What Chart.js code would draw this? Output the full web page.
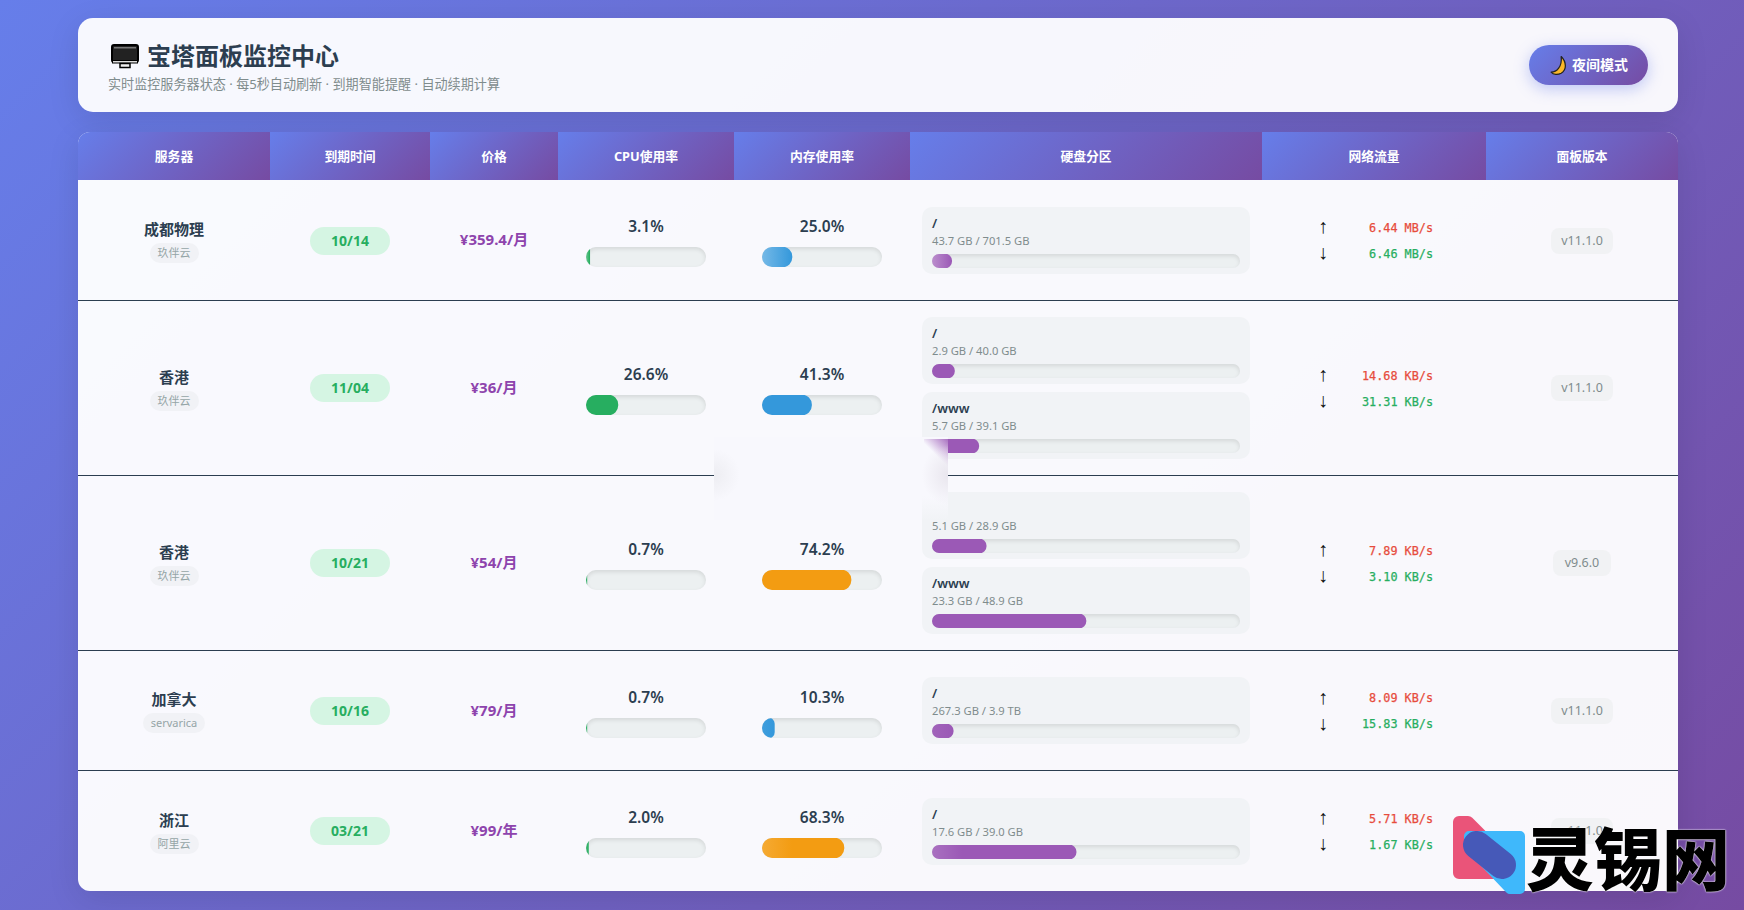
<!DOCTYPE html>
<html lang="zh-CN">
<head>
<meta charset="utf-8">
<title>宝塔面板监控中心</title>
<script src="https://cdn.jsdelivr.net/npm/chart.js@4/dist/chart.umd.js"></script>
<style>
*{box-sizing:border-box;margin:0;padding:0}
html,body{width:1744px;height:910px;overflow:hidden}
body{background:linear-gradient(135deg,#667eea 0%,#764ba2 100%);font-family:"Noto Sans","Noto Sans CJK SC",sans-serif;color:#2c3e50;position:relative}
.top{position:absolute;left:78px;top:18px;width:1600px;height:94px;border-radius:15px;background:rgba(255,255,255,.95);box-shadow:0 8px 32px rgba(0,0,0,.1)}
.top svg.mon{position:absolute;left:33px;top:26px}
.top h1{position:absolute;left:69px;top:20px;font-size:24px;line-height:36px;font-weight:700;white-space:nowrap}
.top p{position:absolute;left:30px;top:56px;font-size:13.1px;line-height:20px;color:#7f8c8d;white-space:nowrap}
.btn{position:absolute;left:1451px;top:27px;width:119px;height:40px;border-radius:20px;background:linear-gradient(135deg,#667eea,#764ba2);box-shadow:0 4px 15px rgba(102,126,234,.4);color:#fff;font-size:14px;font-weight:700;line-height:40px;padding-left:43px;white-space:nowrap}
.btn svg{position:absolute;left:21px;top:10px}
.tbl{position:absolute;left:78px;top:132px;width:1600px;height:759px;border-radius:12px;overflow:hidden;background:rgba(255,255,255,.96);box-shadow:0 8px 32px rgba(0,0,0,.1)}
.row,.head{display:grid;grid-template-columns:192px 160px 128px 176px 176px 352px 224px 192px}
.head{height:48px;grid-template-rows:48px}
.head div{height:48px;background:linear-gradient(135deg,#667eea 0%,#764ba2 100%);color:#fff;font-size:12.8px;font-weight:700;line-height:48px;text-align:center;overflow:hidden}
.row{border-bottom:1px solid #2c3e50}
.row:last-child{border-bottom:0}
.cell{display:flex;flex-direction:column;align-items:center;justify-content:center;min-width:0}
.name{font-size:15px;font-weight:600;line-height:21px;margin-top:1px}
.tag{font-size:11px;line-height:20px;height:20px;padding:0 8px;border-radius:10px;background:#f1f2f6;color:#95a5a6;margin-top:3px}
.date{width:80px;height:28px;border-radius:14px;background:#d5f5e3;color:#27ae60;font-size:14px;font-weight:700;line-height:28px;text-align:center}
.price{color:#8e44ad;font-size:15px;font-weight:700;position:relative;top:-1.5px}
.pct{font-size:15.5px;font-weight:600;line-height:28px;margin-bottom:6px;position:relative;top:-1px}
.track{position:relative;overflow:hidden;background:#ecf0f1;box-shadow:inset 0 2px 4px rgba(0,0,0,.1)}
.track canvas{position:absolute;left:0;top:0;display:block}
.usage{width:120px;height:20px;border-radius:10px}
.disk{width:328px;height:67px;border-radius:10px;background:#f1f3f6;position:relative}
.disk + .disk{margin-top:8px}
.mount{position:absolute;left:10px;top:6px;font-size:13px;font-weight:600;line-height:20px}
.size{position:absolute;left:10px;top:25px;font-size:11.2px;line-height:18px;color:#7f8c8d;white-space:nowrap}
.dtrack{position:absolute;left:10px;top:47px;width:308px;height:14px;border-radius:7px}
.net{width:116px;padding-top:1px;position:relative;left:1px}
.net div{display:flex;justify-content:space-between;align-items:center;height:26px}
.net i{font-style:normal;font-size:20px;color:#111;font-family:"Liberation Sans",sans-serif;width:14px;text-align:center;line-height:26px;position:relative;top:-1.5px;left:-1px}
.net b{font-family:"DejaVu Sans Mono",monospace;font-size:11.8px;font-weight:400;-webkit-text-stroke:.25px currentColor}
.up{color:#e74c3c}.dn{color:#27ae60}
.ver{height:26px;min-width:58px;text-align:center;border-radius:8px;background:#f1f2f4;color:#7f8c8d;font-size:12.5px;line-height:26px;padding:0 10px}
.first .date,.first .ver{position:relative;top:1px}
.smudge{position:absolute;left:714px;top:437px;width:234px;height:83px;z-index:3;background-color:#f8f8fd;background-repeat:no-repeat;background-image:
  radial-gradient(ellipse 26px 26px at 0 38px,#ededf2,rgba(248,248,253,0)),
  radial-gradient(ellipse 26px 30px at 100% 38px,#e9e6ee,rgba(248,248,253,0)),
  linear-gradient(225deg,rgba(155,89,182,.85) 0,rgba(155,89,182,0) 20px),
  linear-gradient(180deg,rgba(241,243,246,0),#f1f3f6);
  background-size:auto,auto,24px 28px,26px 24px;
  background-position:0 0,0 0,100% 2px,100% 100%}
.mark{position:absolute;left:0;top:0;z-index:5;pointer-events:none}
.marktext{position:absolute;left:1526px;top:806px;z-index:6;font-family:"Noto Sans CJK SC",sans-serif;font-size:68px;line-height:100px;font-weight:900;color:#000;white-space:nowrap;text-shadow:0 0 1px #fff,0 0 2px #fff}
</style>
</head>
<body>
<div class="top">
  <svg class="mon" width="28" height="25" viewBox="0 0 28 25" role="img" aria-label="🖥"><rect x="1" y="1" width="26" height="17" rx="2" fill="#222" stroke="#000" stroke-width="2"/><rect x="3" y="3" width="22" height="1.5" fill="#777"/><rect x="1.5" y="16.5" width="25" height="2.5" fill="#ddd" stroke="#000"/><rect x="9" y="19.5" width="10" height="4" fill="#eee" stroke="#000" stroke-width="1.5"/></svg>
  <h1>宝塔面板监控中心</h1>
  <p>实时监控服务器状态 · 每5秒自动刷新 · 到期智能提醒 · 自动续期计算</p>
  <div class="btn"><svg width="19" height="21" viewBox="0 0 17 18" role="img" aria-label="🌙"><path d="M10 1 C15 6 15 13 10 16 C7 17.5 3 17.5 1 15 C6 15 11 10 10 1Z" fill="#fbb728" stroke="#222" stroke-width="1.1" stroke-linejoin="round"/></svg>夜间模式</div>
</div>
<div class="tbl" id="tbl"></div>
<div class="smudge"></div>
<svg class="mark" width="1744" height="910" aria-hidden="true">
  <path d="M1459 822 L1468 822 L1510 864 L1510 873 L1459 873 Z" fill="#ea5479" stroke="#ea5479" stroke-width="12" stroke-linejoin="round"/>
  <path d="M1469 836 L1520 836 L1520 889 L1510 889 L1469 846 Z" fill="#3fb8fb" stroke="#3fb8fb" stroke-width="10" stroke-linejoin="round"/>
  <line x1="1477" y1="845" x2="1502" y2="865" stroke="#4659b8" stroke-width="28" stroke-linecap="round"/>
</svg>
<div class="marktext">灵锡网</div>
<script>
const tableHeaders = ['服务器','到期时间','价格','CPU使用率','内存使用率','硬盘分区','网络流量','面板版本'];
const serverNames = ['成都物理','香港','香港','加拿大','浙江'];
const providers = ['玖伴云','玖伴云','玖伴云','servarica','阿里云'];
const expiryDates = ['10/14','11/04','10/21','10/16','03/21'];
const prices = ['¥359.4/月','¥36/月','¥54/月','¥79/月','¥99/年'];
const cpuUsage = [3.1,26.6,0.7,0.7,2.0];
const memUsage = [25.0,41.3,74.2,10.3,68.3];
const diskMounts = [['/'],['/','/www'],['/','/www'],['/'],['/']];
const diskSizes = [['43.7 GB / 701.5 GB'],['2.9 GB / 40.0 GB','5.7 GB / 39.1 GB'],['5.1 GB / 28.9 GB','23.3 GB / 48.9 GB'],['267.3 GB / 3.9 TB'],['17.6 GB / 39.0 GB']];
const diskUsage = [[6.4],[7.3,15.2],[17.6,50.0],[6.9],[46.8]];
const uploadRates = ['6.44 MB/s','14.68 KB/s','7.89 KB/s','8.09 KB/s','5.71 KB/s'];
const downloadRates = ['6.46 MB/s','31.31 KB/s','3.10 KB/s','15.83 KB/s','1.67 KB/s'];
const panelVersions = ['v11.1.0','v11.1.0','v9.6.0','v11.1.0','v11.1.0'];
const rowHeights = [121,175,175,120,120];
const rowSheen = [.32,0,0,.06,.14];

const GREEN='#27ae60',BLUE='#3498db',ORANGE='#f39c12',PURPLE='#9b59b6';
const memColor = v => v >= 60 ? ORANGE : BLUE;

function barFill(color, sheen, width){
  return ctx => {
    if(!sheen) return color;
    const g = ctx.chart.ctx.createLinearGradient(0,0,Math.min(width,30),0);
    const a = parseInt(color.slice(1,3),16), b = parseInt(color.slice(3,5),16), d = parseInt(color.slice(5,7),16);
    const mix = x => Math.round(x+(255-x)*sheen);
    g.addColorStop(0,`rgb(${mix(a)},${mix(b)},${mix(d)})`);
    g.addColorStop(1,color);
    return g;
  };
}
function usageBar(parent, w, h, value, color, radius, sheen){
  const cv = document.createElement('canvas');
  cv.width = w; cv.height = h; cv.style.width = w+'px'; cv.style.height = h+'px';
  parent.appendChild(cv);
  new Chart(cv,{
    type:'bar',
    data:{labels:[''],datasets:[{data:[value],backgroundColor:barFill(color,sheen,w*value/100),borderWidth:0,borderRadius:radius,borderSkipped:false,categoryPercentage:1,barPercentage:1}]},
    options:{indexAxis:'y',responsive:false,animation:false,events:[],layout:{padding:0},
      plugins:{legend:{display:false},tooltip:{enabled:false}},
      scales:{x:{display:false,min:0,max:100},y:{display:false}}}
  });
}
const el = (tag,cls,txt) => {const e=document.createElement(tag); if(cls)e.className=cls; if(txt!=null)e.textContent=txt; return e;};
const tbl = document.getElementById('tbl');
const head = el('div','head');
tableHeaders.forEach(t=>{const h=el('div','',t); head.appendChild(h);});
tbl.appendChild(head);
serverNames.forEach((name,i)=>{
  const row = el('div',i===0?'row first':'row'); row.style.height = rowHeights[i]+'px';
  let c = el('div','cell'); c.append(el('div','name',name),el('div','tag',providers[i])); row.appendChild(c);
  c = el('div','cell'); c.append(el('div','date',expiryDates[i])); row.appendChild(c);
  c = el('div','cell'); c.append(el('div','price',prices[i])); row.appendChild(c);
  [[cpuUsage[i],GREEN],[memUsage[i],memColor(memUsage[i])]].forEach(([v,col])=>{
    const cc = el('div','cell'); cc.append(el('div','pct',v.toFixed(1)+'%'));
    const t = el('div','track usage'); cc.appendChild(t); row.appendChild(cc);
    usageBar(t,120,20,v,col,10,rowSheen[i]);
  });
  c = el('div','cell');
  diskMounts[i].forEach((m,j)=>{
    const d = el('div','disk');
    d.append(el('div','mount',m),el('div','size',diskSizes[i][j]));
    const t = el('div','track dtrack'); d.appendChild(t); c.appendChild(d);
    usageBar(t,308,14,diskUsage[i][j],PURPLE,7,rowSheen[i]);
  });
  row.appendChild(c);
  c = el('div','cell');
  const n = el('div','net');
  const u = el('div'); u.append(el('i','','↑'),el('b','up',uploadRates[i]));
  const v = el('div'); v.append(el('i','','↓'),el('b','dn',downloadRates[i]));
  n.append(u,v); c.appendChild(n); row.appendChild(c);
  c = el('div','cell'); c.append(el('div','ver',panelVersions[i])); row.appendChild(c);
  tbl.appendChild(row);
});
</script>
</body>
</html>
